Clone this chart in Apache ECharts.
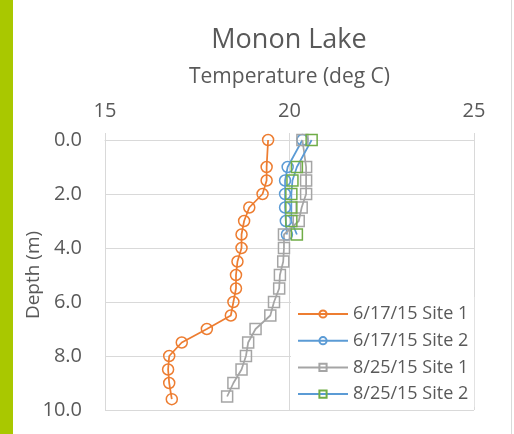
<!DOCTYPE html>
<html>
<head>
<meta charset="utf-8">
<script src="https://cdn.jsdelivr.net/npm/echarts@6.0.0/dist/echarts.min.js"></script>
<style>
	html, body { margin: 0; padding: 0; background: #fff; }
	#main { width: 514px; height: 434px; }
</style>
</head>
<body>
<div id="main"></div>
<script type="text/javascript">

	// depth (m) and temperature (deg C) per profile
	var seriesNames = ['6/17/15 Site 1', '6/17/15 Site 2', '8/25/15 Site 1', '8/25/15 Site 2'];

	var depth_0617_s1 = [0, 1, 1.5, 2, 2.5, 3, 3.5, 4, 4.5, 5, 5.5, 6, 6.5, 7, 7.5, 8, 8.5, 9, 9.6];
	var temp_0617_s1  = [19.42, 19.38, 19.38, 19.27, 18.91, 18.77, 18.7, 18.7, 18.59, 18.55, 18.55, 18.48, 18.41, 17.76, 17.08, 16.74, 16.71, 16.74, 16.81];

	var depth_0617_s2 = [0, 1, 1.5, 2, 2.5, 3, 3.5];
	var temp_0617_s2  = [20.35, 19.95, 19.88, 19.88, 19.88, 19.9, 19.93];

	var depth_0825_s1 = [0, 1, 1.5, 2, 2.5, 3, 3.5, 4, 4.5, 5, 5.5, 6, 6.5, 7, 7.5, 8, 8.5, 9, 9.5];
	var temp_0825_s1  = [20.35, 20.45, 20.45, 20.45, 20.33, 20.25, 19.85, 19.85, 19.83, 19.74, 19.72, 19.58, 19.48, 19.08, 18.88, 18.82, 18.7, 18.48, 18.31];

	var depth_0825_s2 = [0, 1, 1.5, 2, 2.5, 3, 3.5];
	var temp_0825_s2  = [20.6, 20.2, 20.08, 20.05, 20.05, 20.05, 20.2];

	var tempTicks = [15, 20, 25];
	var depthTicks = [0, 2, 4, 6, 8, 10];

	function pairs(temps, depths) {
		var out = [];
		for (var i = 0; i < temps.length; i++) {
			out.push([temps[i], depths[i]]);
		}
		return out;
	}

	var font = '"Open Sans", "Liberation Sans", sans-serif';
	var textGray = '#595959';
	var gridGray = '#d9d9d9';

	function profile(name, data, lineColor, markColor, symbol) {
		return {
			name: name,
			type: 'line',
			data: data,
			symbol: symbol,
			symbolSize: 11,
			lineStyle: { color: lineColor, width: 1.75 },
			itemStyle: { color: 'rgba(255,255,255,0)', borderColor: markColor, borderWidth: 1.5 },
			emphasis: { disabled: true },
			animation: false
		};
	}

	var chart = echarts.init(document.getElementById('main'));
	chart.setOption({
		animation: false,
		textStyle: { fontFamily: font },
		title: {
			text: 'Monon Lake',
			left: 284,
			top: 22,
			textAlign: 'center',
			textStyle: { fontFamily: font, fontSize: 27, fontWeight: 'normal', color: textGray }
		},
		graphic: [
			{ type: 'rect', shape: { x: 0, y: 0, width: 13, height: 434 }, style: { fill: '#a9c800' } },
			{ type: 'line', shape: { x1: 511.5, y1: 0, x2: 511.5, y2: 434 }, style: { stroke: gridGray, lineWidth: 1 } }
		],
		grid: { left: 105, right: 40, top: 140, bottom: 24 },
		legend: {
			data: seriesNames,
			orient: 'vertical',
			left: 291,
			top: 297,
			padding: [7, 6, 3, 6],
			itemWidth: 50,
			itemHeight: 9,
			itemGap: 6.7,
			backgroundColor: '#fff',
			textStyle: { fontFamily: font, fontSize: 18, lineHeight: 20, color: textGray }
		},
		xAxis: {
			type: 'value',
			position: 'top',
			min: tempTicks[0],
			max: tempTicks[tempTicks.length - 1],
			interval: 5,
			name: 'Temperature (deg C)',
			nameLocation: 'middle',
			nameGap: 52,
			nameMoveOverlap: false,
			nameTextStyle: { fontFamily: font, fontSize: 21, color: textGray },
			axisLine: { show: true, lineStyle: { color: gridGray } },
			axisTick: { show: true, length: 7, lineStyle: { color: gridGray } },
			axisLabel: { fontFamily: font, fontSize: 20, color: textGray, margin: 19 },
			splitLine: { show: true, lineStyle: { color: gridGray } }
		},
		yAxis: {
			type: 'value',
			inverse: true,
			min: depthTicks[0],
			max: depthTicks[depthTicks.length - 1],
			interval: 2,
			name: 'Depth (m)',
			nameLocation: 'middle',
			nameGap: 62,
			nameMoveOverlap: false,
			nameTextStyle: { fontFamily: font, fontSize: 19, color: textGray },
			axisLine: { show: true, lineStyle: { color: gridGray } },
			axisTick: { show: false },
			axisLabel: {
				fontFamily: font, fontSize: 20, color: textGray, margin: 23,
				formatter: function (v) { return v.toFixed(1); }
			},
			splitLine: { show: true, lineStyle: { color: gridGray } }
		},
		series: [
			profile(seriesNames[0], pairs(temp_0617_s1, depth_0617_s1), '#ed7d31', '#ed7d31', 'circle'),
			profile(seriesNames[1], pairs(temp_0617_s2, depth_0617_s2), '#5b9bd5', '#5b9bd5', 'circle'),
			profile(seriesNames[2], pairs(temp_0825_s1, depth_0825_s1), '#a5a5a5', '#a5a5a5', 'rect'),
			profile(seriesNames[3], pairs(temp_0825_s2, depth_0825_s2), '#5b9bd5', '#70ad47', 'rect')
		]
	});

</script>
</body>
</html>
